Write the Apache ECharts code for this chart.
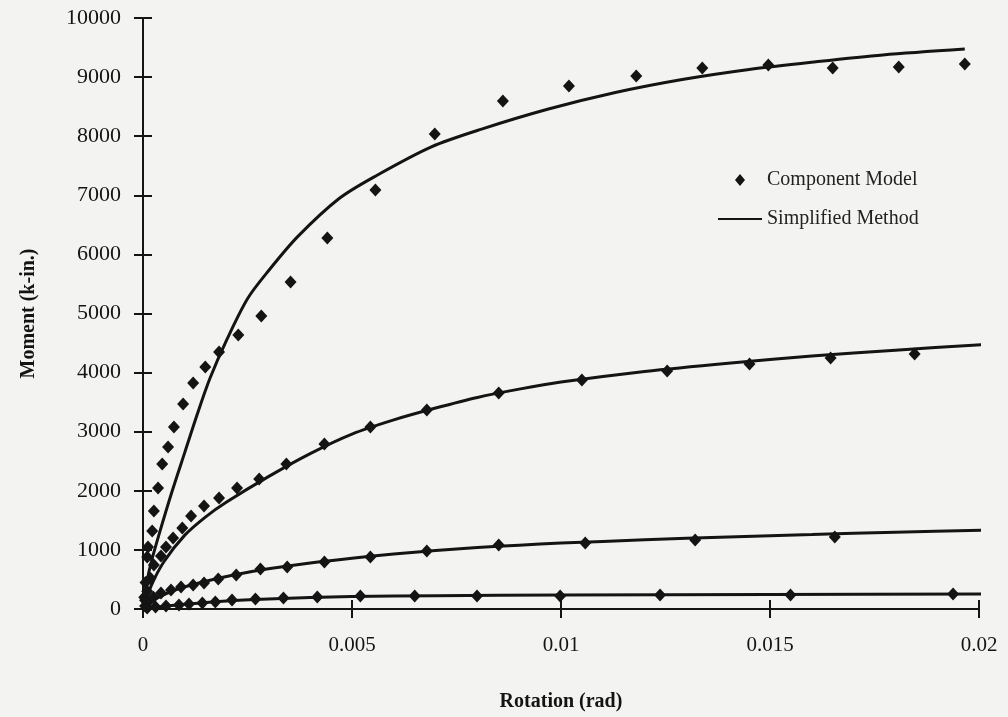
<!DOCTYPE html>
<html>
<head>
<meta charset="utf-8">
<script src="https://cdn.jsdelivr.net/npm/echarts@6/dist/echarts.min.js"></script>
<style>
  html, body { margin: 0; padding: 0; background: #f3f4f2; }
  #main { width: 1008px; height: 717px; }
</style>
</head>
<body>
<div id="main"></div>
<script>
  // Component Model points [rotation (rad), moment (k-in.)]
  var compA = [[0.00003, 200], [0.00006, 450], [0.0001, 880], [0.00012, 1049], [0.00022, 1320], [0.00026, 1658],
    [0.00036, 2047], [0.00046, 2453], [0.0006, 2741], [0.00074, 3079], [0.00096, 3469], [0.0012, 3824],
    [0.00149, 4095], [0.00182, 4348], [0.00228, 4636], [0.00283, 4958], [0.00353, 5533], [0.00441, 6277],
    [0.00556, 7089], [0.00698, 8037], [0.00861, 8595], [0.01019, 8849], [0.0118, 9018], [0.01338, 9154],
    [0.01496, 9204], [0.0165, 9154], [0.01808, 9171], [0.01966, 9221]]
  var compB = [[0.00005, 150], [0.0001, 300], [0.00018, 520], [0.00026, 745], [0.00043, 897], [0.00055, 1049],
    [0.00072, 1201], [0.00094, 1371], [0.00115, 1574], [0.00146, 1743], [0.00182, 1878], [0.00225, 2047],
    [0.00278, 2200], [0.00343, 2453], [0.00434, 2792], [0.00544, 3079], [0.00679, 3367], [0.00851, 3655],
    [0.0105, 3875], [0.01254, 4027], [0.01451, 4145], [0.01645, 4247], [0.01846, 4315]]
  var compC = [[0.00005, 50], [0.0001, 100], [0.00025, 200], [0.00043, 271], [0.00067, 321], [0.00091, 372],
    [0.0012, 406], [0.00146, 440], [0.0018, 508], [0.00223, 575], [0.00281, 677], [0.00345, 711],
    [0.00434, 795], [0.00544, 880], [0.00679, 981], [0.00851, 1083], [0.01058, 1117], [0.01321, 1167],
    [0.01655, 1218]]
  var compD = [[0.0001, 15], [0.0003, 35], [0.00055, 50], [0.00086, 68], [0.0011, 85], [0.00142, 102],
    [0.00173, 118], [0.00213, 152], [0.00269, 169], [0.00336, 186], [0.00417, 203], [0.0052, 220],
    [0.0065, 220], [0.00799, 220], [0.00998, 220], [0.01237, 237], [0.01549, 237], [0.01938, 254]]

  // Simplified Method curves
  var simpA = [[0, 0], [0.0001, 480], [0.0002, 800], [0.0004, 1300], [0.0007, 2000], [0.001, 2650],
    [0.0013, 3300], [0.0016, 3900], [0.002, 4550], [0.0025, 5250], [0.003, 5720], [0.0037, 6300],
    [0.0047, 6950], [0.0056, 7340], [0.0069, 7820], [0.0081, 8120], [0.0097, 8460], [0.0113, 8740],
    [0.0129, 8960], [0.0145, 9130], [0.0161, 9260], [0.0177, 9375], [0.01966, 9475]]
  var simpB = [[0, 0], [0.0002, 400], [0.0005, 800], [0.001, 1250], [0.0015, 1560], [0.002, 1810],
    [0.003, 2240], [0.004, 2630], [0.005, 2960], [0.006, 3200], [0.007, 3400], [0.008, 3580],
    [0.009, 3720], [0.01, 3840], [0.012, 4020], [0.014, 4160], [0.016, 4280], [0.018, 4380], [0.0202, 4480]]
  var simpC = [[0, 0], [0.0003, 170], [0.0008, 330], [0.0015, 470], [0.0022, 580], [0.003, 680],
    [0.004, 780], [0.005, 860], [0.006, 930], [0.007, 990], [0.008, 1040], [0.009, 1080], [0.01, 1115],
    [0.012, 1170], [0.014, 1220], [0.016, 1260], [0.018, 1300], [0.0202, 1335]]
  var simpD = [[0, 0], [0.0005, 45], [0.001, 80], [0.002, 135], [0.003, 170], [0.004, 195], [0.005, 210],
    [0.007, 225], [0.01, 235], [0.015, 245], [0.0202, 255]]

  var ink = '#141414'
  var serif = 'Liberation Serif'

  function lineSeries (data) {
    return {
      name: 'Simplified Method',
      type: 'line',
      data: data,
      showSymbol: false,
      smooth: 0.3,
      lineStyle: {color: ink, width: 3},
      itemStyle: {color: ink},
      z: 2
    }
  }
  function dotSeries (data) {
    return {
      name: 'Component Model',
      type: 'scatter',
      data: data,
      symbol: 'diamond',
      symbolSize: [12, 13],
      itemStyle: {color: ink, opacity: 1},
      z: 3
    }
  }

  var axisCommon = {
    axisLine: {lineStyle: {color: ink, width: 2}},
    splitLine: {show: false}
  }

  var chart = echarts.init(document.getElementById('main'))
  chart.setOption({
    backgroundColor: '#f3f4f2',
    animation: false,
    textStyle: {fontFamily: serif, color: ink},
    grid: {left: 143, right: 29, top: 18, bottom: 108},
    legend: {
      orient: 'vertical',
      left: 713,
      top: 165,
      itemWidth: 44,
      itemHeight: 12,
      itemGap: 19,
      textStyle: {fontFamily: serif, fontSize: 20, color: '#222'},
      data: [
        {name: 'Component Model', icon: 'path://M0,6 L0.01,6 Z M17,6 L22,0 L27,6 L22,12 Z M44,6 L43.99,6 Z'},
        {name: 'Simplified Method', icon: 'path://M0,5 L44,5 L44,7 L0,7 Z M0,0 L0.01,0 Z M0,12 L0.01,12 Z'}
      ]
    },
    xAxis: [
      Object.assign({
        type: 'value', min: 0, max: 0.02, interval: 0.005,
        name: 'Rotation (rad)', nameLocation: 'middle', nameGap: 83,
        nameTextStyle: {fontFamily: serif, fontSize: 20, fontWeight: 'bold', color: ink},
        axisTick: {length: 9, lineStyle: {color: ink, width: 2}},
        axisLabel: {margin: 26, fontSize: 21, color: ink, fontFamily: serif,
          formatter: function (v) { return v === 0 ? '0' : String(+v.toFixed(3)) }}
      }, axisCommon),
      {
        type: 'value', min: 0, max: 0.02, interval: 0.005, position: 'bottom',
        axisLine: {show: false}, axisLabel: {show: false}, splitLine: {show: false},
        axisTick: {inside: true, length: 9, lineStyle: {color: ink, width: 2}}
      }
    ],
    yAxis: [
      Object.assign({
        type: 'value', min: 0, max: 10000, interval: 1000,
        name: 'Moment (k-in.)', nameLocation: 'middle', nameGap: 104,
        nameTextStyle: {fontFamily: serif, fontSize: 20, fontWeight: 'bold', color: ink},
        axisTick: {length: 9, lineStyle: {color: ink, width: 2}},
        axisLabel: {margin: 22, fontSize: 22, color: ink, fontFamily: serif,
          formatter: function (v) { return String(v) }}
      }, axisCommon),
      {
        type: 'value', min: 0, max: 10000, interval: 1000, position: 'left',
        axisLine: {show: false}, axisLabel: {show: false}, splitLine: {show: false},
        axisTick: {inside: true, length: 9, lineStyle: {color: ink, width: 2}}
      }
    ],
    series: [
      lineSeries(simpA), lineSeries(simpB), lineSeries(simpC), lineSeries(simpD),
      dotSeries(compA), dotSeries(compB), dotSeries(compC), dotSeries(compD)
    ]
  })
</script>
</body>
</html>
